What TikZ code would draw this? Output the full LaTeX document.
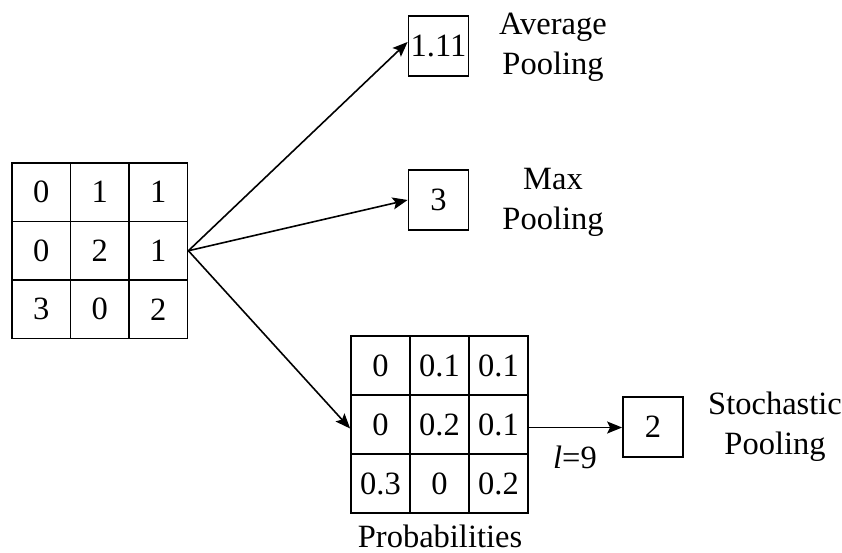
\documentclass[tikz,border=0pt]{standalone}
\usepackage{fontspec}
\setmainfont{Liberation Serif}
\usetikzlibrary{arrows.meta}
\begin{document}
\begin{tikzpicture}[x=1pt,y=-1pt,
  font=\fontsize{32.5}{40}\selectfont,
  cellA/.style={draw,line width=1.8pt,minimum width=58.5pt,minimum height=58.5pt,inner sep=0pt},
  cellB/.style={draw,line width=1.8pt,minimum width=59pt,minimum height=59pt,inner sep=0pt},
  outbox/.style={draw,line width=1.8pt,minimum width=60pt,minimum height=60pt,inner sep=0pt},
  lbl/.style={align=center,inner sep=0pt},
  conn/.style={line width=1.6pt,-{Stealth[length=15pt,width=12pt,inset=3pt]}}]
\useasboundingbox (0,0) rectangle (842,553);
% input grid
\node[cellA] (a11) at (41.25,192.25) {0};
\node[cellA] (a12) at (99.75,192.25) {1};
\node[cellA] (a13) at (158.25,192.25) {1};
\node[cellA] (a21) at (41.25,250.75) {0};
\node[cellA] (a22) at (99.75,250.75) {2};
\node[cellA] (a23) at (158.25,250.75) {1};
\node[cellA] (a31) at (41.25,309.25) {3};
\node[cellA] (a32) at (99.75,309.25) {0};
\node[cellA] (a33) at (158.25,309.25) {2};
% probabilities grid
\node[cellB] (p11) at (380.5,365.5) {0};
\node[cellB] (p12) at (439.5,365.5) {0.1};
\node[cellB] (p13) at (498.5,365.5) {0.1};
\node[cellB] (p21) at (380.5,424.5) {0};
\node[cellB] (p22) at (439.5,424.5) {0.2};
\node[cellB] (p23) at (498.5,424.5) {0.1};
\node[cellB] (p31) at (380.5,483.5) {0.3};
\node[cellB] (p32) at (439.5,483.5) {0};
\node[cellB] (p33) at (498.5,483.5) {0.2};
\node[lbl,anchor=base] (prob) at (440,547) {Probabilities};
% output boxes
\node[outbox] (avg) at (438.5,46) {1.11};
\node[outbox] (max) at (438.5,200) {3};
\node[outbox] (sto) at (653,427) {2};
\node[lbl] (avgl) at (553,47) {Average\\Pooling};
\node[lbl] (maxl) at (553,202) {Max\\Pooling};
\node[lbl] (stol) at (775,427) {Stochastic\\Pooling};
\node[lbl] (lnine) at (575,457) {\textit{l}=9};
% connectors
\draw[conn] (a23.east) -- ([yshift=4pt]avg.west);
\draw[conn] (a23.east) -- (max.west);
\draw[conn] (a23.east) -- ([yshift=-4pt]p21.west);
\draw[conn] ([yshift=-3pt]p23.east) -- ([yshift=-3pt]p23.east -| sto.west);
\end{tikzpicture}
\end{document}
